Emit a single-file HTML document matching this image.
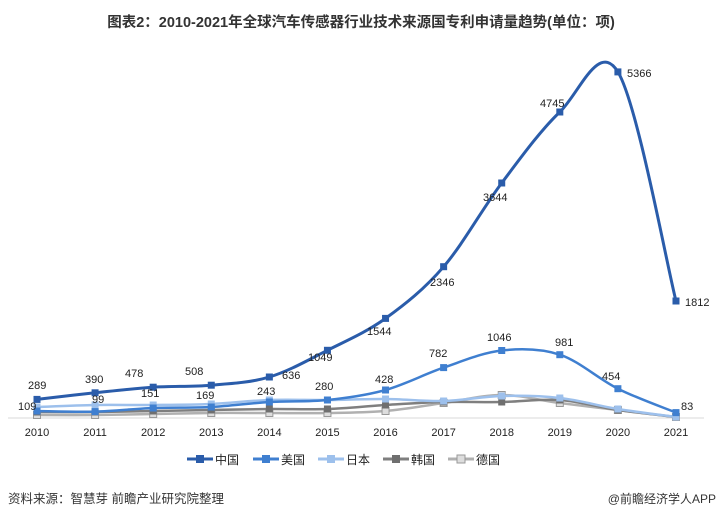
<!DOCTYPE html>
<html><head><meta charset="utf-8"><style>
body{margin:0;background:#fff;width:722px;height:523px;overflow:hidden;font-family:"Liberation Sans","Noto Sans CJK SC",sans-serif}
</style></head><body>
<svg id="s" width="722" height="523" xmlns="http://www.w3.org/2000/svg" font-family="Liberation Sans, Noto Sans CJK SC, sans-serif">
<text x="361" y="27" text-anchor="middle" font-size="14.5" font-weight="bold" fill="#333">图表2：2010-2021年全球汽车传感器行业技术来源国专利申请量趋势(单位：项)</text>
<line x1="8" y1="418" x2="704" y2="418" stroke="#d9d9d9" stroke-width="1"/>
<g id="series"></g>
<g font-size="11" fill="#222" id="xl"></g>
<g font-size="11" fill="#222">
<text x="28" y="389">289</text><text x="85" y="383">390</text><text x="125" y="377">478</text><text x="185" y="375">508</text>
<text x="282" y="379">636</text><text x="308" y="361">1049</text><text x="367" y="335">1544</text><text x="430" y="286">2346</text>
<text x="483" y="201">3644</text><text x="540" y="107">4745</text><text x="627" y="77">5366</text><text x="685" y="306">1812</text>
<text x="18" y="410">109</text><text x="92" y="403">99</text><text x="141" y="397">151</text><text x="196" y="399">169</text>
<text x="257" y="395">243</text><text x="315" y="390">280</text><text x="375" y="383">428</text><text x="429" y="357">782</text>
<text x="487" y="341">1046</text><text x="555" y="346">981</text><text x="602" y="380">454</text><text x="681" y="410">83</text>
</g>
<g font-size="12" fill="#222">
<line x1="187" y1="459" x2="213" y2="459" stroke="#2a5caa" stroke-width="3"/><rect x="196" y="455" width="8" height="8" fill="#2a5caa"/><text x="215" y="464">中国</text>
<line x1="253" y1="459" x2="279" y2="459" stroke="#3f7fd0" stroke-width="3"/><rect x="262" y="455" width="8" height="8" fill="#3f7fd0"/><text x="281" y="464">美国</text>
<line x1="318" y1="459" x2="344" y2="459" stroke="#9dc0ec" stroke-width="3"/><rect x="327" y="455" width="8" height="8" fill="#9dc0ec"/><text x="346" y="464">日本</text>
<line x1="383" y1="459" x2="409" y2="459" stroke="#7f7f7f" stroke-width="3"/><rect x="392" y="455" width="8" height="8" fill="#6f6f6f"/><text x="411" y="464">韩国</text>
<line x1="448" y1="459" x2="474" y2="459" stroke="#b0b0b0" stroke-width="3"/><rect x="457" y="455" width="8" height="8" fill="#ddd" stroke="#999"/><text x="476" y="464">德国</text>
</g>
<text x="8" y="503" font-size="12.5" fill="#333">资料来源：智慧芽 前瞻产业研究院整理</text>
<text x="716" y="503" font-size="12" fill="#333" text-anchor="end">@前瞻经济学人APP</text>
</svg>
<script>
var X=i=>37+i*58.09;
var S=[
["#b0b0b0",2.5,"#ddd","#999",[415,415,414,413,413,413,411,403,395,403,410,417]],
["#7f7f7f",2.5,"#6f6f6f",null,[412,412,411,410,409,409,405,402,402,400,410,417]],
["#9dc0ec",2.5,"#9dc0ec",null,[407,405,405,404,400,400,399,401,396,398,409,417]],
["#3f7fd0",2.5,"#3f7fd0",null,[411,411.6,408,407,402,400,390,367.6,350.5,354.7,388.7,412.6]],
["#2a5caa",3,"#2a5caa",null,[399.4,392.8,387.2,385.2,377,350.3,318.4,266.7,183,112,71.9,301]]];
var out="";
S.forEach(s=>{var p=s[4].map((y,i)=>[X(i),y]);var d="M"+p[0][0]+","+p[0][1];
for(var i=0;i<p.length-1;i++){var p0=p[i-1]||p[i],p1=p[i],p2=p[i+1],p3=p[i+2]||p2,t=6;
d+=" C"+(p1[0]+(p2[0]-p0[0])/t)+","+(p1[1]+(p2[1]-p0[1])/t)+" "+(p2[0]-(p3[0]-p1[0])/t)+","+(p2[1]-(p3[1]-p1[1])/t)+" "+p2[0]+","+p2[1];}
out+='<path d="'+d+'" fill="none" stroke="'+s[0]+'" stroke-width="'+s[1]+'"/>';
p.forEach(q=>{out+='<rect x="'+(q[0]-3.5)+'" y="'+(q[1]-3.5)+'" width="7" height="7" fill="'+s[2]+'"'+(s[3]?' stroke="'+s[3]+'"':'')+'/>';});});
document.getElementById("series").innerHTML=out;
var xl="";for(var i=0;i<12;i++)xl+='<text x="'+X(i)+'" y="436" text-anchor="middle">'+(2010+i)+'</text>';
document.getElementById("xl").innerHTML=xl;
</script>
</body></html>
